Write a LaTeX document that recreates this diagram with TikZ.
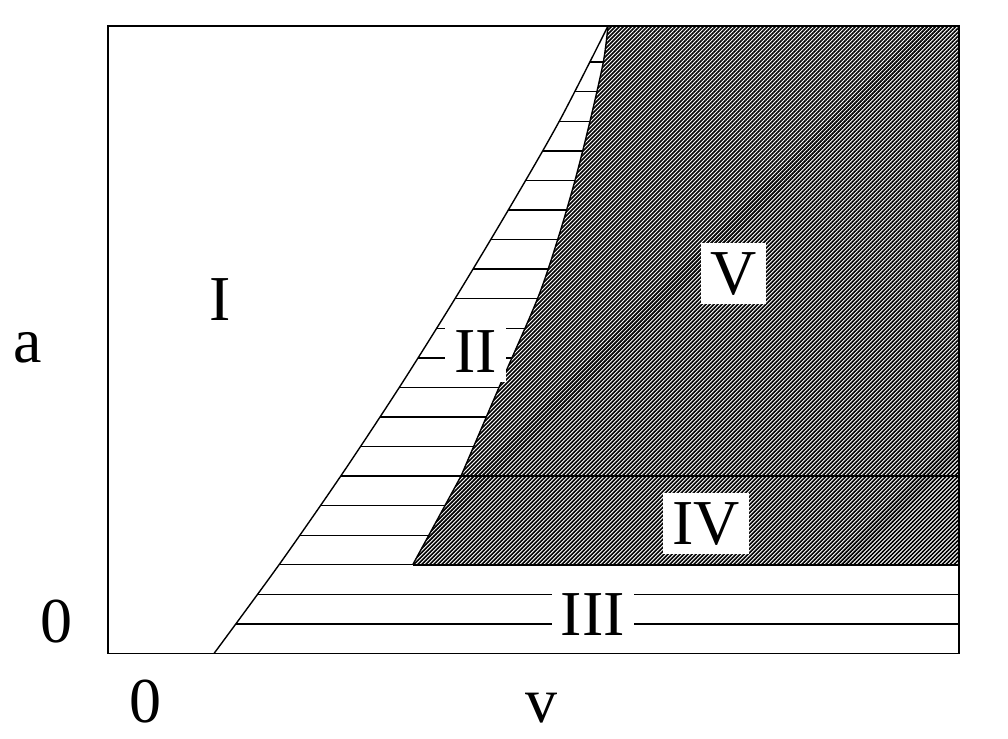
\documentclass[tikz,border=0pt]{standalone}
\usepackage{fontspec}
\setmainfont{Liberation Serif}
\usetikzlibrary{patterns.meta}
\begin{document}
\begin{tikzpicture}[x=1pt,y=-1pt,
  gridline/.style={line width=1.4pt},
  border/.style={line width=1.4pt},
  frameline/.style={line width=1.8pt},
  lab/.style={font=\fontsize{64}{64}\selectfont, inner sep=0pt},
  boxlab/.style={font=\fontsize{64}{64}\selectfont, fill=white, text height=41.9pt, text depth=0pt, inner xsep=9.3pt, inner ysep=9.3pt},
  hatch/.style={pattern={Lines[angle=45,distance=2.83pt,line width=1.6pt]}}]
\useasboundingbox (0,0) rectangle (1008,738);
\coordinate (apex) at (608,26);
\coordinate (Rbot) at (412.7,564.8);
\coordinate (Rmid) at (461,476.1);
\coordinate (TL) at (108,26);
\coordinate (BR) at (959,653.5);
\coordinate (IIIright) at (959,564.8);
\coordinate (IVright) at (959,476.1);
% horizontal lines right of the left curve
\begin{scope}
  \clip plot[smooth] coordinates {(214,653.5) (279,564.8) (340.7,476.1) (399.3,387.4) (455,298.7) (508.3,210) (559.3,121.2) (608,26)} -- (959,26) -- (959,653.5) -- cycle;
  \foreach \m in {1,...,20}
    \draw[gridline] (108,{653.5-29.57*\m}) -- (959,{653.5-29.57*\m});
\end{scope}
% hatched regions IV and V
\path[fill=white] (Rbot) -- plot[smooth] coordinates {(461,476.1) (499,387.4) (537.5,298.7) (557.7,239.5) (575,180.4) (590,121.2) (603.3,62.1) (608,26)} -- (959,26) -- (IIIright) -- cycle;
\path[hatch] (Rbot) -- plot[smooth] coordinates {(461,476.1) (499,387.4) (537.5,298.7) (557.7,239.5) (575,180.4) (590,121.2) (603.3,62.1) (608,26)} -- (959,26) -- (IIIright) -- cycle;
\draw[gridline] (Rbot) -- (IIIright);
\draw[gridline] (Rmid) -- (IVright);
\draw[border] (Rbot) -- plot[smooth] coordinates {(461,476.1) (499,387.4) (537.5,298.7) (557.7,239.5) (575,180.4) (590,121.2) (603.3,62.1) (608,26)};
\draw[border] plot[smooth] coordinates {(214,653.5) (279,564.8) (340.7,476.1) (399.3,387.4) (455,298.7) (508.3,210) (559.3,121.2) (608,26)};
\draw[frameline] (TL) rectangle (BR);
% labels
\node[boxlab] (lII) at (475.5,351.5) {II};
\node[boxlab] (lIII) at (592.8,614.2) {III};
\node[boxlab] (lIV) at (706,523.3) {IV};
\node[boxlab] (lV) at (733.3,273.7) {V};
\node[lab, anchor=base] (la) at (27.5,362) {a};
\node[lab, anchor=base] (lI) at (220.5,320.7) {I};
\node[lab, anchor=base] (lzeroa) at (56,642) {0};
\node[lab, anchor=base] (lzerov) at (145,722) {0};
\node[lab, anchor=base] (lv) at (541,722) {v};
\end{tikzpicture}
\end{document}
